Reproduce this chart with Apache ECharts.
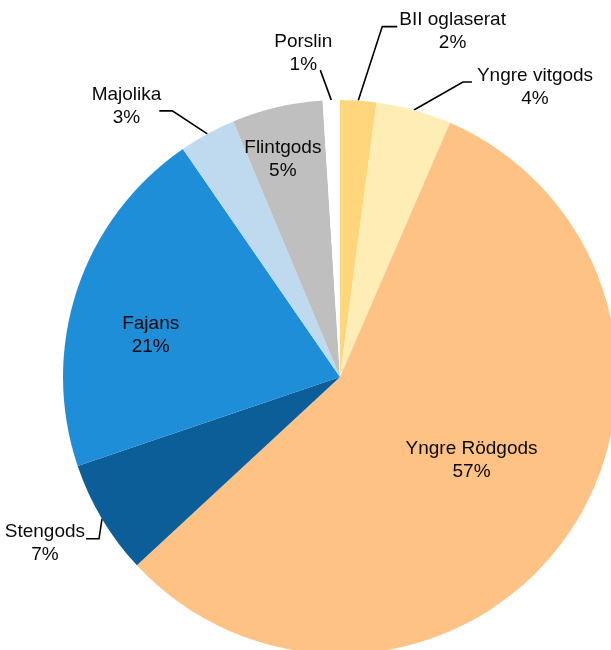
<!DOCTYPE html>
<html>
<head>
<meta charset="utf-8">
<script src="https://cdn.jsdelivr.net/npm/echarts@6/dist/echarts.min.js"></script>
<style>
  html, body { margin: 0; padding: 0; background: #ffffff; }
  #chart { width: 611px; height: 650px; }
</style>
</head>
<body>
<div id="chart"></div>
<script>
// Fyndmaterial: andel per godstyp (procent), medurs från kl. 12
const categories = ['BII oglaserat', 'Yngre vitgods', 'Yngre Rödgods', 'Stengods', 'Fajans', 'Majolika', 'Flintgods', 'Porslin'];
const shares = [2.1, 4.4, 56.6, 6.7, 20.6, 3.3, 5.3, 1.0];
const sliceColors = ['#FFD67C', '#FFEDB6', '#FFC285', '#0B5E97', '#1F8ED8', '#BFDAEF', '#BFBFBF', '#FFFFFF'];

// Etiketter utanför tårtan: knäpunkt, vågrät linje och textens läge, relativt linjens startpunkt
const outsideLabels = {
  'Porslin':       { elbow: [-11, -30], run: 0,   at: [-28, -46.5], align: 'center' },
  'BII oglaserat': { elbow: [24, -74],  run: 15,  at: [41, -69],    align: 'left' },
  'Yngre vitgods': { elbow: [49, -28],  run: 9,   at: [63, -23],    align: 'left' },
  'Majolika':      { elbow: [-35, -23], run: -13, at: [-46, -28],   align: 'right' },
  'Stengods':      { elbow: [-3, 20],   run: -13, at: [-17, 25],    align: 'right' }
};
// Etiketter inne i tårtan: förskjutning från standardläget
const insideShift = {
  'Yngre Rödgods': [16, 2],
  'Fajans': [-55, 3],
  'Flintgods': [-25, -80]
};

const FONT = '"Liberation Sans Narrow", "Arial Narrow", "Liberation Sans", Arial, sans-serif';
const FONT_SIZE = 19;

const chart = echarts.init(document.getElementById('chart'), null, { renderer: 'canvas' });

const pieData = categories.map((name, i) => {
  const outside = !!outsideLabels[name];
  return {
    name: name,
    value: shares[i],
    itemStyle: { color: sliceColors[i] },
    label: { position: outside ? 'outside' : 'inside' },
    labelLine: { show: outside }
  };
});

chart.setOption({
  backgroundColor: '#ffffff',
  animation: false,
  series: [{
    type: 'pie',
    center: [340, 377],
    radius: 277,
    startAngle: 90,
    clockwise: true,
    avoidLabelOverlap: false,
    minShowLabelAngle: 0,
    data: pieData,
    itemStyle: { borderWidth: 0 },
    label: {
      color: '#0a0a0a',
      fontFamily: FONT,
      fontSize: FONT_SIZE,
      formatter: p => '{t|' + p.name + '}\n{t|' + Math.round(p.percent) + '%}',
      rich: {
        t: { fontFamily: FONT, fontSize: FONT_SIZE, lineHeight: 23, align: 'center', color: '#0a0a0a' }
      }
    },
    labelLine: {
      show: true,
      lineStyle: { color: '#000000', width: 1.6 }
    },
    emphasis: { disabled: true },
    labelLayout: function (params) {
      const name = categories[params.dataIndex];
      const out = outsideLabels[name];
      if (out && params.labelLinePoints) {
        const p0 = params.labelLinePoints[0];
        const e = [p0[0] + out.elbow[0], p0[1] + out.elbow[1]];
        const pts = [p0, e, [e[0] + out.run, e[1]]];
        return {
          x: p0[0] + out.at[0],
          y: p0[1] + out.at[1],
          align: out.align,
          verticalAlign: 'middle',
          labelLinePoints: pts
        };
      }
      const s = insideShift[name];
      if (s) {
        return { dx: s[0], dy: s[1] };
      }
    }
  }]
});
</script>
</body>
</html>
